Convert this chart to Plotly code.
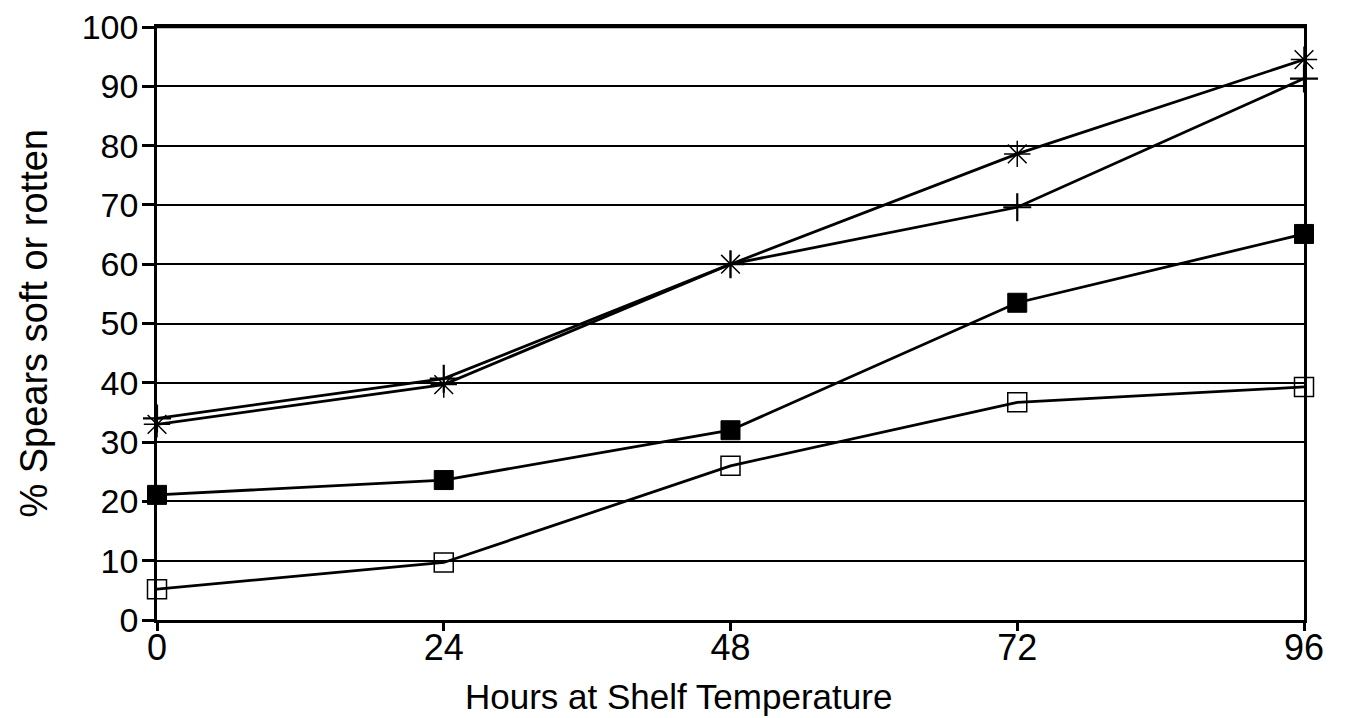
import plotly.graph_objects as go

hours = [0, 24, 48, 72, 96]
star_series = [33, 39.7, 60, 78.6, 94.5]
plus_series = [34, 40.7, 60, 69.6, 91.3]
filled_sq_series = [21.1, 23.6, 32, 53.5, 65.1]
open_sq_series = [5.2, 9.7, 26, 36.7, 39.3]
y_ticks = [0, 10, 20, 30, 40, 50, 60, 70, 80, 90, 100]
x_ticks = [0, 24, 48, 72, 96]
x_title = "Hours at Shelf Temperature"
y_title = "% Spears soft or rotten"

FONT = "Liberation Sans, Arial, Helvetica, sans-serif"

fig = go.Figure()
line = dict(color="black", width=2.8)

fig.add_trace(go.Scatter(x=hours, y=star_series, mode="lines+markers", line=line,
                         marker=dict(symbol="asterisk-open", size=22, line=dict(color="black", width=1.5)),
                         cliponaxis=False, name="A"))
fig.add_trace(go.Scatter(x=hours, y=plus_series, mode="lines+markers", line=line,
                         marker=dict(symbol="cross-thin-open", size=20, line=dict(color="black", width=2.2)),
                         cliponaxis=False, name="B"))
fig.add_trace(go.Scatter(x=hours, y=filled_sq_series, mode="lines+markers", line=line,
                         marker=dict(symbol="square", size=19, color="black", line=dict(color="black", width=1)),
                         cliponaxis=False, name="C"))
fig.add_trace(go.Scatter(x=hours, y=open_sq_series, mode="lines+markers", line=line,
                         marker=dict(symbol="square-open", size=19, color="black", line=dict(color="black", width=1.5)),
                         cliponaxis=False, name="D"))

fig.update_layout(
    width=1346, height=718,
    margin=dict(l=149, r=50, t=19, b=106),
    paper_bgcolor="white", plot_bgcolor="white",
    showlegend=False,
    font=dict(family=FONT, color="black"),
    xaxis=dict(range=[0, 96], tickvals=x_ticks, ticktext=[str(v) for v in x_ticks],
               showgrid=False, zeroline=False, showline=True, mirror=True,
               linecolor="black", linewidth=2.5, ticks="outside", ticklen=8,
               tickwidth=2.5, tickcolor="black", tickfont=dict(size=36),
               ticklabelstandoff=-14, ticklabeloverflow="allow",
               automargin=False),
    yaxis=dict(range=[0, 100], tickvals=y_ticks, ticktext=[str(v) for v in y_ticks],
               showgrid=True, gridcolor="black", gridwidth=2.3, zeroline=False,
               showline=True, mirror=True, linecolor="black", linewidth=2.5,
               ticks="outside", ticklen=12, tickwidth=2.5, tickcolor="black",
               tickfont=dict(size=34), ticklabelstandoff=-3,
               ticklabeloverflow="allow", automargin=False),
    shapes=[dict(type="line", xref="paper", yref="paper", x0=0, x1=1, y0=1, y1=1,
                 line=dict(color="black", width=2.5), layer="above")],
    annotations=[
        dict(text=x_title, xref="paper", yref="paper", x=0.455, y=-0.129,
             xanchor="center", yanchor="middle", showarrow=False,
             font=dict(size=35, family=FONT)),
        dict(text=y_title, xref="paper", yref="paper", x=-0.108, y=0.5,
             xanchor="center", yanchor="middle", showarrow=False, textangle=-90,
             font=dict(size=38, family=FONT)),
    ],
)

fig.write_html("out.html")
